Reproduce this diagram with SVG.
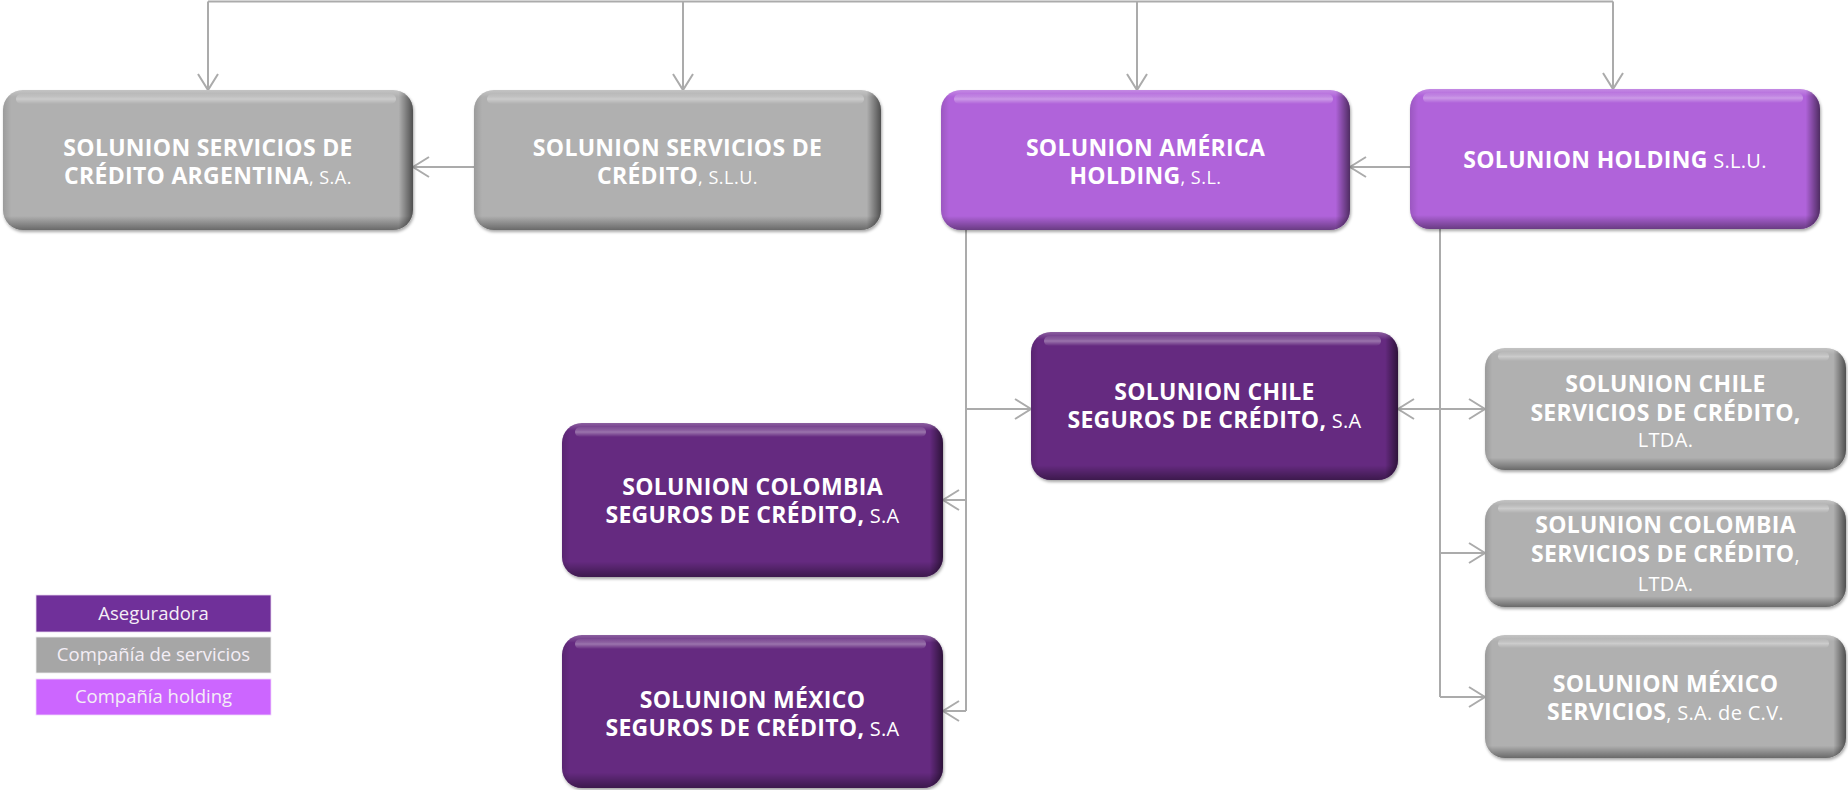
<svg xmlns="http://www.w3.org/2000/svg" width="1848" height="790" viewBox="0 0 1848 790">
<defs>
<style>
.conn{fill:none;stroke:#ABABAB;stroke-width:2}
.box{stroke:none}
.gray{fill:#B0B0B0}
.hold{fill:#B063DA}
.aseg{fill:#652A80}
.t{font-family:"Open Sans","Liberation Sans",sans-serif;fill:#FFFFFF;text-anchor:middle}
.b{font-weight:700;font-size:23px;letter-spacing:0.3px}
.r{font-weight:400;font-size:18px;letter-spacing:0.5px}
.r2{font-weight:400;font-size:20px;letter-spacing:0.3px}
.lg{font-family:"Open Sans","Liberation Sans",sans-serif;font-size:18.5px;fill:#F4EEF6;text-anchor:middle}
</style>
<marker id="arr" viewBox="0 0 20 22" markerWidth="20" markerHeight="22" refX="17" refY="11" orient="auto-start-reverse" markerUnits="userSpaceOnUse">
<path d="M1,1 L17,11 L1,21" fill="none" stroke="#ABABAB" stroke-width="2"/>
</marker>
<linearGradient id="shH" x1="0" y1="0" x2="1" y2="0">
<stop offset="0" stop-color="#000" stop-opacity="0.12"/>
<stop offset="0.02" stop-color="#000" stop-opacity="0"/>
<stop offset="0.965" stop-color="#000" stop-opacity="0"/>
<stop offset="1" stop-color="#000" stop-opacity="0.55"/>
</linearGradient>
<linearGradient id="shV" x1="0" y1="0" x2="0" y2="1">
<stop offset="0" stop-color="#FFF" stop-opacity="0.25"/>
<stop offset="0.05" stop-color="#FFF" stop-opacity="0"/>
<stop offset="0.9" stop-color="#000" stop-opacity="0"/>
<stop offset="1" stop-color="#000" stop-opacity="0.4"/>
</linearGradient>
<linearGradient id="hl" x1="0" y1="0" x2="0" y2="1">
<stop offset="0" stop-color="#FFF" stop-opacity="0.05"/>
<stop offset="0.5" stop-color="#FFF" stop-opacity="0.35"/>
<stop offset="1" stop-color="#FFF" stop-opacity="0"/>
</linearGradient>
<filter id="ds" x="-5%" y="-5%" width="112%" height="115%">
<feDropShadow dx="1" dy="2" stdDeviation="1.5" flood-color="#000" flood-opacity="0.35"/>
</filter>
</defs>

<g id="connectors">
<path class="conn" d="M208,1.5 H1613"/>
<path class="conn" d="M208,1.5 V90" marker-end="url(#arr)"/>
<path class="conn" d="M683,1.5 V90" marker-end="url(#arr)"/>
<path class="conn" d="M1137,1.5 V90" marker-end="url(#arr)"/>
<path class="conn" d="M1613,1.5 V89" marker-end="url(#arr)"/>
<path class="conn" d="M474,167 H413" marker-end="url(#arr)"/>
<path class="conn" d="M1410,167 H1350" marker-end="url(#arr)"/>
<path class="conn" d="M966,230 V711"/>
<path class="conn" d="M966,409 H1031" marker-end="url(#arr)"/>
<path class="conn" d="M966,500 H943" marker-end="url(#arr)"/>
<path class="conn" d="M966,711 H943" marker-end="url(#arr)"/>
<path class="conn" d="M1440,229 V697"/>
<path class="conn" d="M1398,409 H1485" marker-start="url(#arr)" marker-end="url(#arr)"/>
<path class="conn" d="M1440,553 H1485" marker-end="url(#arr)"/>
<path class="conn" d="M1440,697 H1485" marker-end="url(#arr)"/>
</g>

<g id="n-argentina">
<g filter="url(#ds)"><rect class="box gray" x="3" y="90" width="410" height="140" rx="20"/></g>
<rect x="3" y="90" width="410" height="140" rx="20" fill="url(#shH)"/>
<rect x="3" y="90" width="410" height="140" rx="20" fill="url(#shV)"/>
<rect x="16" y="94" width="380" height="10" rx="5" fill="url(#hl)"/>
<text class="t"><tspan class="b" x="208" y="156">SOLUNION SERVICIOS DE</tspan><tspan class="b" x="208" y="184">CRÉDITO ARGENTINA</tspan><tspan class="r">, S.A.</tspan></text>
</g>

<g id="n-servicios-credito">
<g filter="url(#ds)"><rect class="box gray" x="474" y="90" width="407" height="140" rx="20"/></g>
<rect x="474" y="90" width="407" height="140" rx="20" fill="url(#shH)"/>
<rect x="474" y="90" width="407" height="140" rx="20" fill="url(#shV)"/>
<rect x="487" y="94" width="377" height="10" rx="5" fill="url(#hl)"/>
<text class="t"><tspan class="b" x="677.5" y="156">SOLUNION SERVICIOS DE</tspan><tspan class="b" x="677.5" y="184">CRÉDITO</tspan><tspan class="r">, S.L.U.</tspan></text>
</g>

<g id="n-america">
<g filter="url(#ds)"><rect class="box hold" x="941" y="90" width="409" height="140" rx="20"/></g>
<rect x="941" y="90" width="409" height="140" rx="20" fill="url(#shH)"/>
<rect x="941" y="90" width="409" height="140" rx="20" fill="url(#shV)"/>
<rect x="954" y="94" width="379" height="10" rx="5" fill="url(#hl)"/>
<text class="t"><tspan class="b" x="1145.5" y="156">SOLUNION AMÉRICA</tspan><tspan class="b" x="1145.5" y="184">HOLDING</tspan><tspan class="r">, S.L.</tspan></text>
</g>

<g id="n-holding">
<g filter="url(#ds)"><rect class="box hold" x="1410" y="89" width="410" height="140" rx="20"/></g>
<rect x="1410" y="89" width="410" height="140" rx="20" fill="url(#shH)"/>
<rect x="1410" y="89" width="410" height="140" rx="20" fill="url(#shV)"/>
<rect x="1423" y="93" width="380" height="10" rx="5" fill="url(#hl)"/>
<text class="t"><tspan class="b" x="1615" y="168">SOLUNION HOLDING</tspan><tspan class="r2"> S.L.U.</tspan></text>
</g>

<g id="n-chile-seguros">
<g filter="url(#ds)"><rect class="box aseg" x="1031" y="332" width="367" height="148" rx="20"/></g>
<rect x="1031" y="332" width="367" height="148" rx="20" fill="url(#shH)"/>
<rect x="1031" y="332" width="367" height="148" rx="20" fill="url(#shV)"/>
<rect x="1044" y="336" width="337" height="10" rx="5" fill="url(#hl)"/>
<text class="t"><tspan class="b" x="1214.5" y="400">SOLUNION CHILE</tspan><tspan class="b" x="1214.5" y="428">SEGUROS DE CRÉDITO,</tspan><tspan class="r2"> S.A</tspan></text>
</g>

<g id="n-colombia-seguros">
<g filter="url(#ds)"><rect class="box aseg" x="562" y="423" width="381" height="154" rx="20"/></g>
<rect x="562" y="423" width="381" height="154" rx="20" fill="url(#shH)"/>
<rect x="562" y="423" width="381" height="154" rx="20" fill="url(#shV)"/>
<rect x="575" y="427" width="351" height="10" rx="5" fill="url(#hl)"/>
<text class="t"><tspan class="b" x="752.5" y="495">SOLUNION COLOMBIA</tspan><tspan class="b" x="752.5" y="523">SEGUROS DE CRÉDITO,</tspan><tspan class="r2"> S.A</tspan></text>
</g>

<g id="n-mexico-seguros">
<g filter="url(#ds)"><rect class="box aseg" x="562" y="635" width="381" height="153" rx="20"/></g>
<rect x="562" y="635" width="381" height="153" rx="20" fill="url(#shH)"/>
<rect x="562" y="635" width="381" height="153" rx="20" fill="url(#shV)"/>
<rect x="575" y="639" width="351" height="10" rx="5" fill="url(#hl)"/>
<text class="t"><tspan class="b" x="752.5" y="708">SOLUNION MÉXICO</tspan><tspan class="b" x="752.5" y="736">SEGUROS DE CRÉDITO,</tspan><tspan class="r2"> S.A</tspan></text>
</g>

<g id="n-chile-servicios">
<g filter="url(#ds)"><rect class="box gray" x="1485" y="348" width="361" height="122" rx="20"/></g>
<rect x="1485" y="348" width="361" height="122" rx="20" fill="url(#shH)"/>
<rect x="1485" y="348" width="361" height="122" rx="20" fill="url(#shV)"/>
<rect x="1498" y="352" width="331" height="9" rx="4.5" fill="url(#hl)"/>
<text class="t"><tspan class="b" x="1665.5" y="392">SOLUNION CHILE</tspan><tspan class="b" x="1665.5" y="421">SERVICIOS DE CRÉDITO,</tspan><tspan class="r2" x="1665.5" y="447">LTDA.</tspan></text>
</g>

<g id="n-colombia-servicios">
<g filter="url(#ds)"><rect class="box gray" x="1485" y="500" width="361" height="107" rx="20"/></g>
<rect x="1485" y="500" width="361" height="107" rx="20" fill="url(#shH)"/>
<rect x="1485" y="500" width="361" height="107" rx="20" fill="url(#shV)"/>
<rect x="1498" y="504" width="331" height="9" rx="4.5" fill="url(#hl)"/>
<text class="t"><tspan class="b" x="1665.5" y="533">SOLUNION COLOMBIA</tspan><tspan class="b" x="1665.5" y="562">SERVICIOS DE CRÉDITO</tspan><tspan class="r2">,</tspan><tspan class="r2" x="1665.5" y="591">LTDA.</tspan></text>
</g>

<g id="n-mexico-servicios">
<g filter="url(#ds)"><rect class="box gray" x="1485" y="635" width="361" height="123" rx="20"/></g>
<rect x="1485" y="635" width="361" height="123" rx="20" fill="url(#shH)"/>
<rect x="1485" y="635" width="361" height="123" rx="20" fill="url(#shV)"/>
<rect x="1498" y="639" width="331" height="9" rx="4.5" fill="url(#hl)"/>
<text class="t"><tspan class="b" x="1665.5" y="692">SOLUNION MÉXICO</tspan><tspan class="b" x="1665.5" y="720">SERVICIOS</tspan><tspan class="r2">, S.A. de C.V.</tspan></text>
</g>

<g id="legend">
<rect x="36" y="595" width="235" height="37" fill="#70309A" stroke="#E8D8F0" stroke-width="0.8"/>
<text class="lg" x="153.5" y="620">Aseguradora</text>
<rect x="36" y="637" width="235" height="36" fill="#A6A6A6" stroke="#EEEEEE" stroke-width="0.8"/>
<text class="lg" x="153.5" y="661">Compañía de servicios</text>
<rect x="36" y="679" width="235" height="36" fill="#CC66FF" stroke="#F0D8FA" stroke-width="0.8"/>
<text class="lg" x="153.5" y="703">Compañía holding</text>
</g>
</svg>
